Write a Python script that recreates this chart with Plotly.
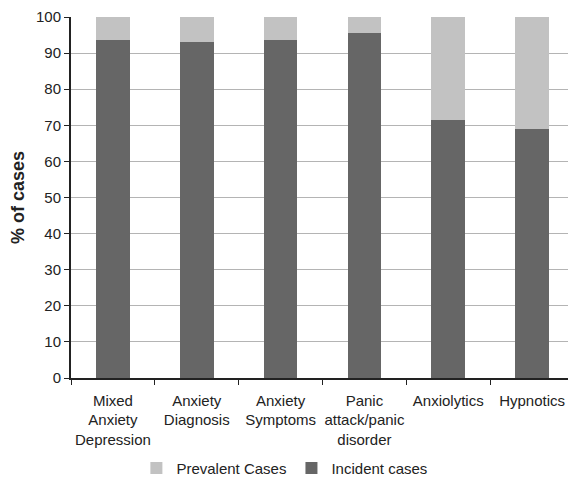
import plotly.graph_objects as go

categories = ["Mixed<br>Anxiety<br>Depression", "Anxiety<br>Diagnosis", "Anxiety<br>Symptoms",
              "Panic<br>attack/panic<br>disorder", "Anxiolytics", "Hypnotics"]
incident = [93.7, 93.1, 93.7, 95.7, 71.6, 68.9]
prevalent = [round(100 - v, 1) for v in incident]

fig = go.Figure()
fig.add_trace(go.Bar(x=categories, y=incident, name="Incident cases",
                     marker=dict(color="#666666", line=dict(width=0))))
fig.add_trace(go.Bar(x=categories, y=prevalent, name="Prevalent Cases",
                     marker=dict(color="#c2c2c2", line=dict(width=0))))

fig.update_layout(
    width=568, height=471,
    barmode="stack", bargap=0.6,
    paper_bgcolor="white", plot_bgcolor="white",
    margin=dict(l=63, r=2, t=9, b=101, autoexpand=False),
    font=dict(family="Liberation Sans, Arial, sans-serif", size=15, color="#222222"),
    legend=dict(orientation="h", traceorder="reversed", x=0.13, xanchor="left",
                y=-0.25, yanchor="middle", font=dict(size=15), itemwidth=30,
                tracegroupgap=0),
    xaxis=dict(showline=True, linecolor="#222222", linewidth=1.5, ticks="outside",
               tickson="boundaries", ticklen=5, tickcolor="#222222", showgrid=False,
               range=[-0.5, 5.5], tickangle=0, ticklabelstandoff=8,
               ticklabeloverflow="allow"),
    yaxis=dict(range=[0, 100], dtick=10, showline=True, linecolor="#222222", linewidth=2,
               ticks="outside", ticklen=5, tickcolor="#222222",
               showgrid=True, gridcolor="#b4b4b4", gridwidth=1.2,
               ticklabeloverflow="allow",
               title=dict(text="<b>% of cases</b>", standoff=12), zeroline=False),
)
fig.write_html("out.html")
